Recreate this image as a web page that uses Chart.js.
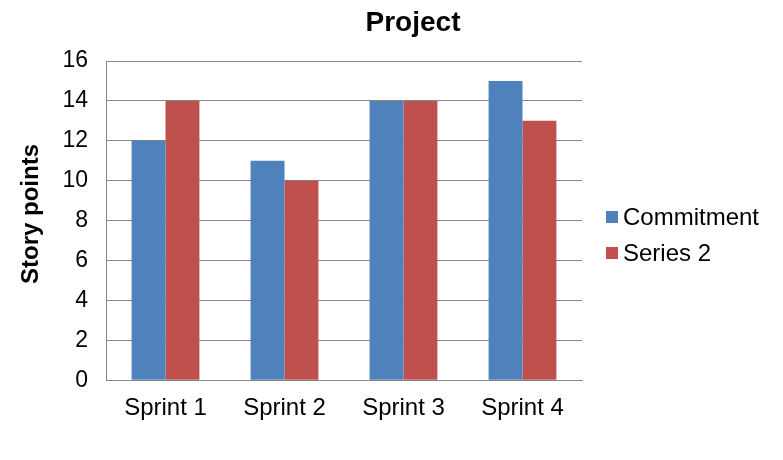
<!DOCTYPE html>
<html>
<head>
<meta charset="utf-8">
<script src="https://cdn.jsdelivr.net/npm/chart.js@4/dist/chart.umd.min.js"></script>
<style>
html,body{margin:0;padding:0;background:#fff;}
#wrap{width:783px;height:460px;}
</style>
</head>
<body>
<div id="wrap"><canvas id="c" width="783" height="460"></canvas></div>
<script>
const categories = ["Sprint 1", "Sprint 2", "Sprint 3", "Sprint 4"];
const commitment = [12, 11, 14, 15];
const series2 = [14, 10, 14, 13];
const seriesNames = ["Commitment", "Series 2"];
const chartTitle = "Project";
const yTitle = "Story points";

const FONT = "'Liberation Sans', Arial, sans-serif";

const extras = {
  id: 'extras',
  afterDraw(chart) {
    const ctx = chart.ctx;
    const area = chart.chartArea;
    const boxX = area.right + 24;
    const startY = 217, step = 36;
    ctx.save();
    ctx.font = '24px ' + FONT;
    ctx.textBaseline = 'middle';
    ctx.textAlign = 'left';
    chart.data.datasets.forEach((ds, i) => {
      const cy = startY + i * step;
      ctx.fillStyle = ds.backgroundColor;
      ctx.fillRect(boxX, cy - 6, 12, 12);
      ctx.fillStyle = '#000';
      ctx.fillText(ds.label, boxX + 17, cy + 1);
    });
    // chart title
    ctx.font = 'bold 28px ' + FONT;
    ctx.textAlign = 'center';
    ctx.fillText(chartTitle, 413, 23);
    // y axis title
    ctx.font = 'bold 24px ' + FONT;
    ctx.translate(31, 214);
    ctx.rotate(-Math.PI / 2);
    ctx.fillText(yTitle, 0, 0);
    ctx.restore();
  }
};

new Chart(document.getElementById('c'), {
  type: 'bar',
  data: {
    labels: categories,
    datasets: [
      {label: seriesNames[0], data: commitment, backgroundColor: '#4F81BD', borderWidth: 0},
      {label: seriesNames[1], data: series2, backgroundColor: '#C0504D', borderWidth: 0}
    ]
  },
  plugins: [extras],
  options: {
    responsive: false,
    animation: false,
    devicePixelRatio: 1,
    layout: {padding: {left: 16, right: 201, top: 61, bottom: 23}},
    datasets: {bar: {categoryPercentage: 0.57, barPercentage: 1}},
    plugins: {
      title: {display: false},
      legend: {display: false},
      tooltip: {enabled: false}
    },
    scales: {
      x: {
        grid: {display: false, drawTicks: false},
        border: {display: true, color: '#868686', width: 1},
        ticks: {color: '#000', font: {family: FONT, size: 24}, padding: 14}
      },
      y: {
        min: 0, max: 16,
        afterFit(scale) { scale.width = 90; },
        ticks: {stepSize: 2, color: '#000', font: {family: FONT, size: 23}, padding: 18},
        grid: {color: '#868686', drawTicks: false},
        border: {display: true, color: '#868686', width: 1},
        title: {display: false}
      }
    }
  }
});
</script>
</body>
</html>
